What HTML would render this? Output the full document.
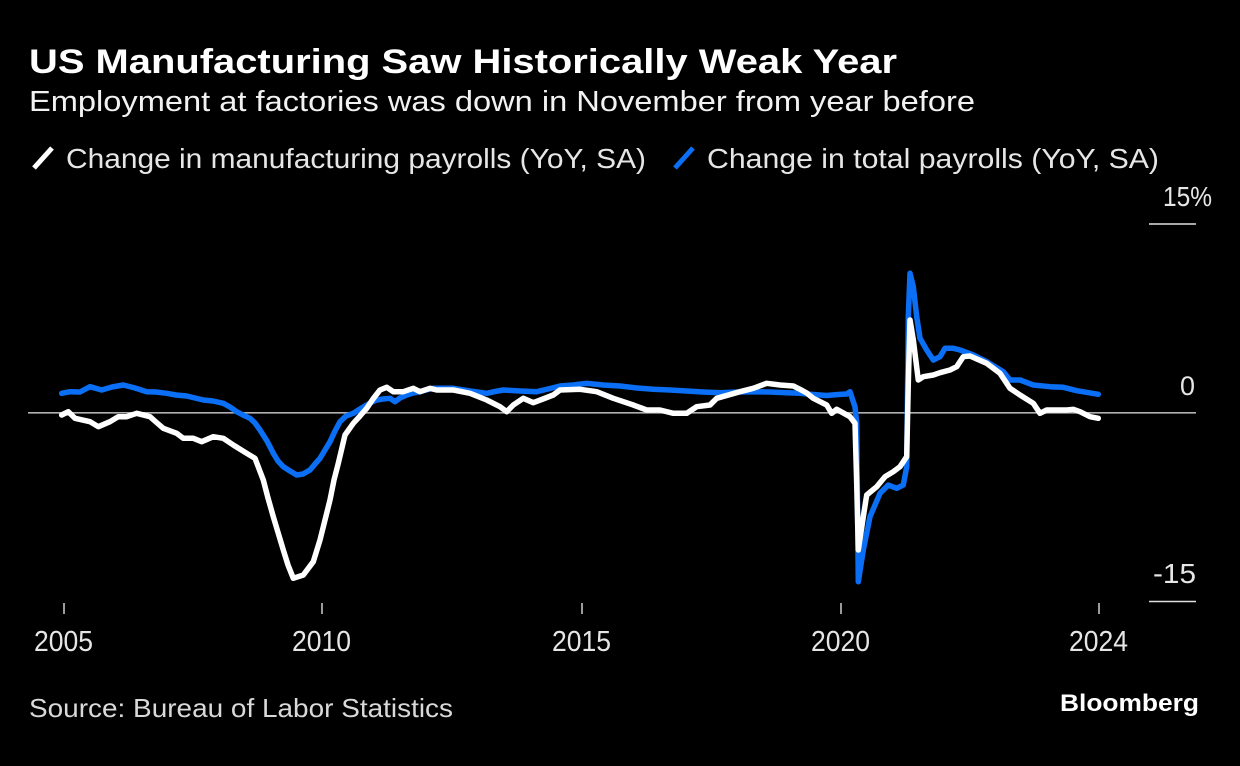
<!DOCTYPE html>
<html><head><meta charset="utf-8"><style>
html,body{margin:0;padding:0;background:#000;}
svg{display:block;}
text{font-family:"Liberation Sans",sans-serif;}
</style></head><body>
<svg width="1240" height="766" viewBox="0 0 1240 766" xmlns="http://www.w3.org/2000/svg">
<rect width="1240" height="766" fill="#000"/>
<text x="29" y="73" font-size="34" font-weight="bold" fill="#fff" textLength="868" lengthAdjust="spacingAndGlyphs">US Manufacturing Saw Historically Weak Year</text>
<text x="29" y="111" font-size="29" fill="#f2f2f2" textLength="946" lengthAdjust="spacingAndGlyphs">Employment at factories was down in November from year before</text>
<line x1="34" y1="168" x2="52" y2="148" stroke="#fff" stroke-width="5"/>
<text x="66" y="168" font-size="28" fill="#e6e6e6" textLength="580" lengthAdjust="spacingAndGlyphs">Change in manufacturing payrolls (YoY, SA)</text>
<line x1="675" y1="168" x2="693" y2="148" stroke="#0b6ff5" stroke-width="5"/>
<text x="707" y="168" font-size="28" fill="#e6e6e6" textLength="452" lengthAdjust="spacingAndGlyphs">Change in total payrolls (YoY, SA)</text>
<text x="1163" y="206" font-size="28" fill="#e6e6e6" textLength="49" lengthAdjust="spacingAndGlyphs">15%</text>
<line x1="1149" y1="224" x2="1196" y2="224" stroke="#e0e0e0" stroke-width="1.5"/>
<text x="1180" y="395" font-size="27" fill="#e6e6e6" textLength="15" lengthAdjust="spacingAndGlyphs">0</text>
<text x="1153" y="583" font-size="28" fill="#e6e6e6" textLength="43" lengthAdjust="spacingAndGlyphs">-15</text>
<line x1="1149" y1="601.5" x2="1196" y2="601.5" stroke="#e0e0e0" stroke-width="1.5"/>
<line x1="28" y1="412.8" x2="1196" y2="412.8" stroke="#b0b0b0" stroke-width="1.6"/>
<g stroke="#cfcfcf" stroke-width="1.5">
<line x1="64" y1="603" x2="64" y2="614"/>
<line x1="322" y1="603" x2="322" y2="614"/>
<line x1="582" y1="603" x2="582" y2="614"/>
<line x1="841" y1="603" x2="841" y2="614"/>
<line x1="1099" y1="603" x2="1099" y2="614"/>
</g>
<g font-size="29" fill="#e6e6e6">
<text x="34" y="651" textLength="59" lengthAdjust="spacingAndGlyphs">2005</text>
<text x="292" y="651" textLength="59" lengthAdjust="spacingAndGlyphs">2010</text>
<text x="552" y="651" textLength="59" lengthAdjust="spacingAndGlyphs">2015</text>
<text x="811" y="651" textLength="59" lengthAdjust="spacingAndGlyphs">2020</text>
<text x="1069" y="651" textLength="59" lengthAdjust="spacingAndGlyphs">2024</text>
</g>
<polyline fill="none" stroke="#0b6ff5" stroke-width="5.5" stroke-linejoin="round" stroke-linecap="round" points="
61.7,393.3 70,391.7 80,392 90,386.7 101.7,390 112,387 123.3,385 135,388 146.7,391.7 156,392 166.7,393.3 176,395 186.7,396 195,398 203.3,400 213,401 223.3,403.3 230,407 236.7,411.7 243,415 250,418.3 255,423 260,430 267,441 273.3,453.3 278,461 283.3,466.7 290,471 296.7,475 303,474 310,470 315,464 320,458.3 325,450 330,441.7 335,431 340,421.7 346,416 353.3,413.3 360,409 366.7,405 372,402 376.7,400 383,399 390,398.3 395,401.7 400,398 406.7,395 413,393 420,391.7 426,390 433.3,388.3 440,388.3 453.3,388.3 470,391 486.7,393.3 495,391.5 503.3,390 520,391 536.7,391.7 548,389 560,386 573,385 586.7,383.3 603,385 620,386 637,388 653.3,389.3 670,390 686.7,391 703,392 720,392.7 737,392 753.3,391.7 770,392 786.7,392.7 800,393.3 813,394.5 826.7,395.5 838,394.5 846.7,394 850,391.7 855,407 856.7,423 858.3,581.7 863.3,550 870,516.7 880,493.3 888.3,485 896.7,488.3 903.3,485 906.7,466.7 908.3,316.7 910,273.3 913.3,286.7 916.7,316.7 920,338.3 926.7,350 933.3,360 940,356.7 945,348.3 953.3,348.3 960,350 973.3,355 986.7,361.7 1003.3,371.7 1010,380 1020,380 1033.3,385 1050,386.7 1063.3,387.3 1076.7,390.7 1098.3,394.3"/>
<polyline fill="none" stroke="#ffffff" stroke-width="5.5" stroke-linejoin="round" stroke-linecap="round" points="
61.7,415 68.3,411.7 75,418.3 90,421.7 98.3,426.7 110,421.7 118.3,416.7 126.7,416.7 136.7,413.3 150,416.7 156,422 163.3,428.3 176.7,433.3 183.3,438.3 193.3,438.3 201.7,441.7 213.3,436.7 223.3,438.3 233.3,445 246.7,453.3 255,458.3 263.3,480 268,498 273.3,516.7 283.3,550 288,565 293.3,578.3 303.3,575 313.3,561.7 320,540 325,520 330,500 334,480 338.3,463.3 345,435 353.3,423.3 360,416 366.7,408.3 373,399 380,390 386.7,387.3 393.3,391.7 403.3,391.7 413.3,388.3 420,391.7 430,388.3 436.7,390 453.3,390 470,393.3 486.7,400 500,406.7 506.7,411.7 513.3,405 523.3,398.3 533.3,402.7 543,399 553.3,395 560,390 580,389.3 596.7,391.7 613.3,398.3 633.3,405 646.7,410 660,410 673.3,413.3 686.7,413.3 696.7,406.7 710,405 716.7,398.3 740,391.7 753.3,388.3 766.7,383.3 780,385 793.3,386 800,389.3 806.7,393 813.3,398.3 826.7,405 831.7,413.3 836.7,409.3 850,416.7 855,423.3 856.7,483 858.3,550 863.3,516.7 866.7,495 876.7,486.7 885,476.7 893.3,471.7 900,466.7 906.7,456.7 908.3,383.3 910,320 913.3,340 918.3,380 923.3,376.7 933.3,375 940,372.7 950,370 956.7,366.7 963.3,356.7 970,356 986.7,363.3 1000,373.3 1010,388.3 1020,395 1033.3,403.3 1040,413.3 1046.7,410 1066.7,410 1073.3,409.3 1080,411.7 1090,416.7 1098.3,418.3"/>
<text x="29" y="717" font-size="26" fill="#d9d9d9" textLength="424" lengthAdjust="spacingAndGlyphs">Source: Bureau of Labor Statistics</text>
<text x="1060" y="711" font-size="24" font-weight="bold" fill="#fff" textLength="139" lengthAdjust="spacingAndGlyphs">Bloomberg</text>
</svg>
</body></html>
